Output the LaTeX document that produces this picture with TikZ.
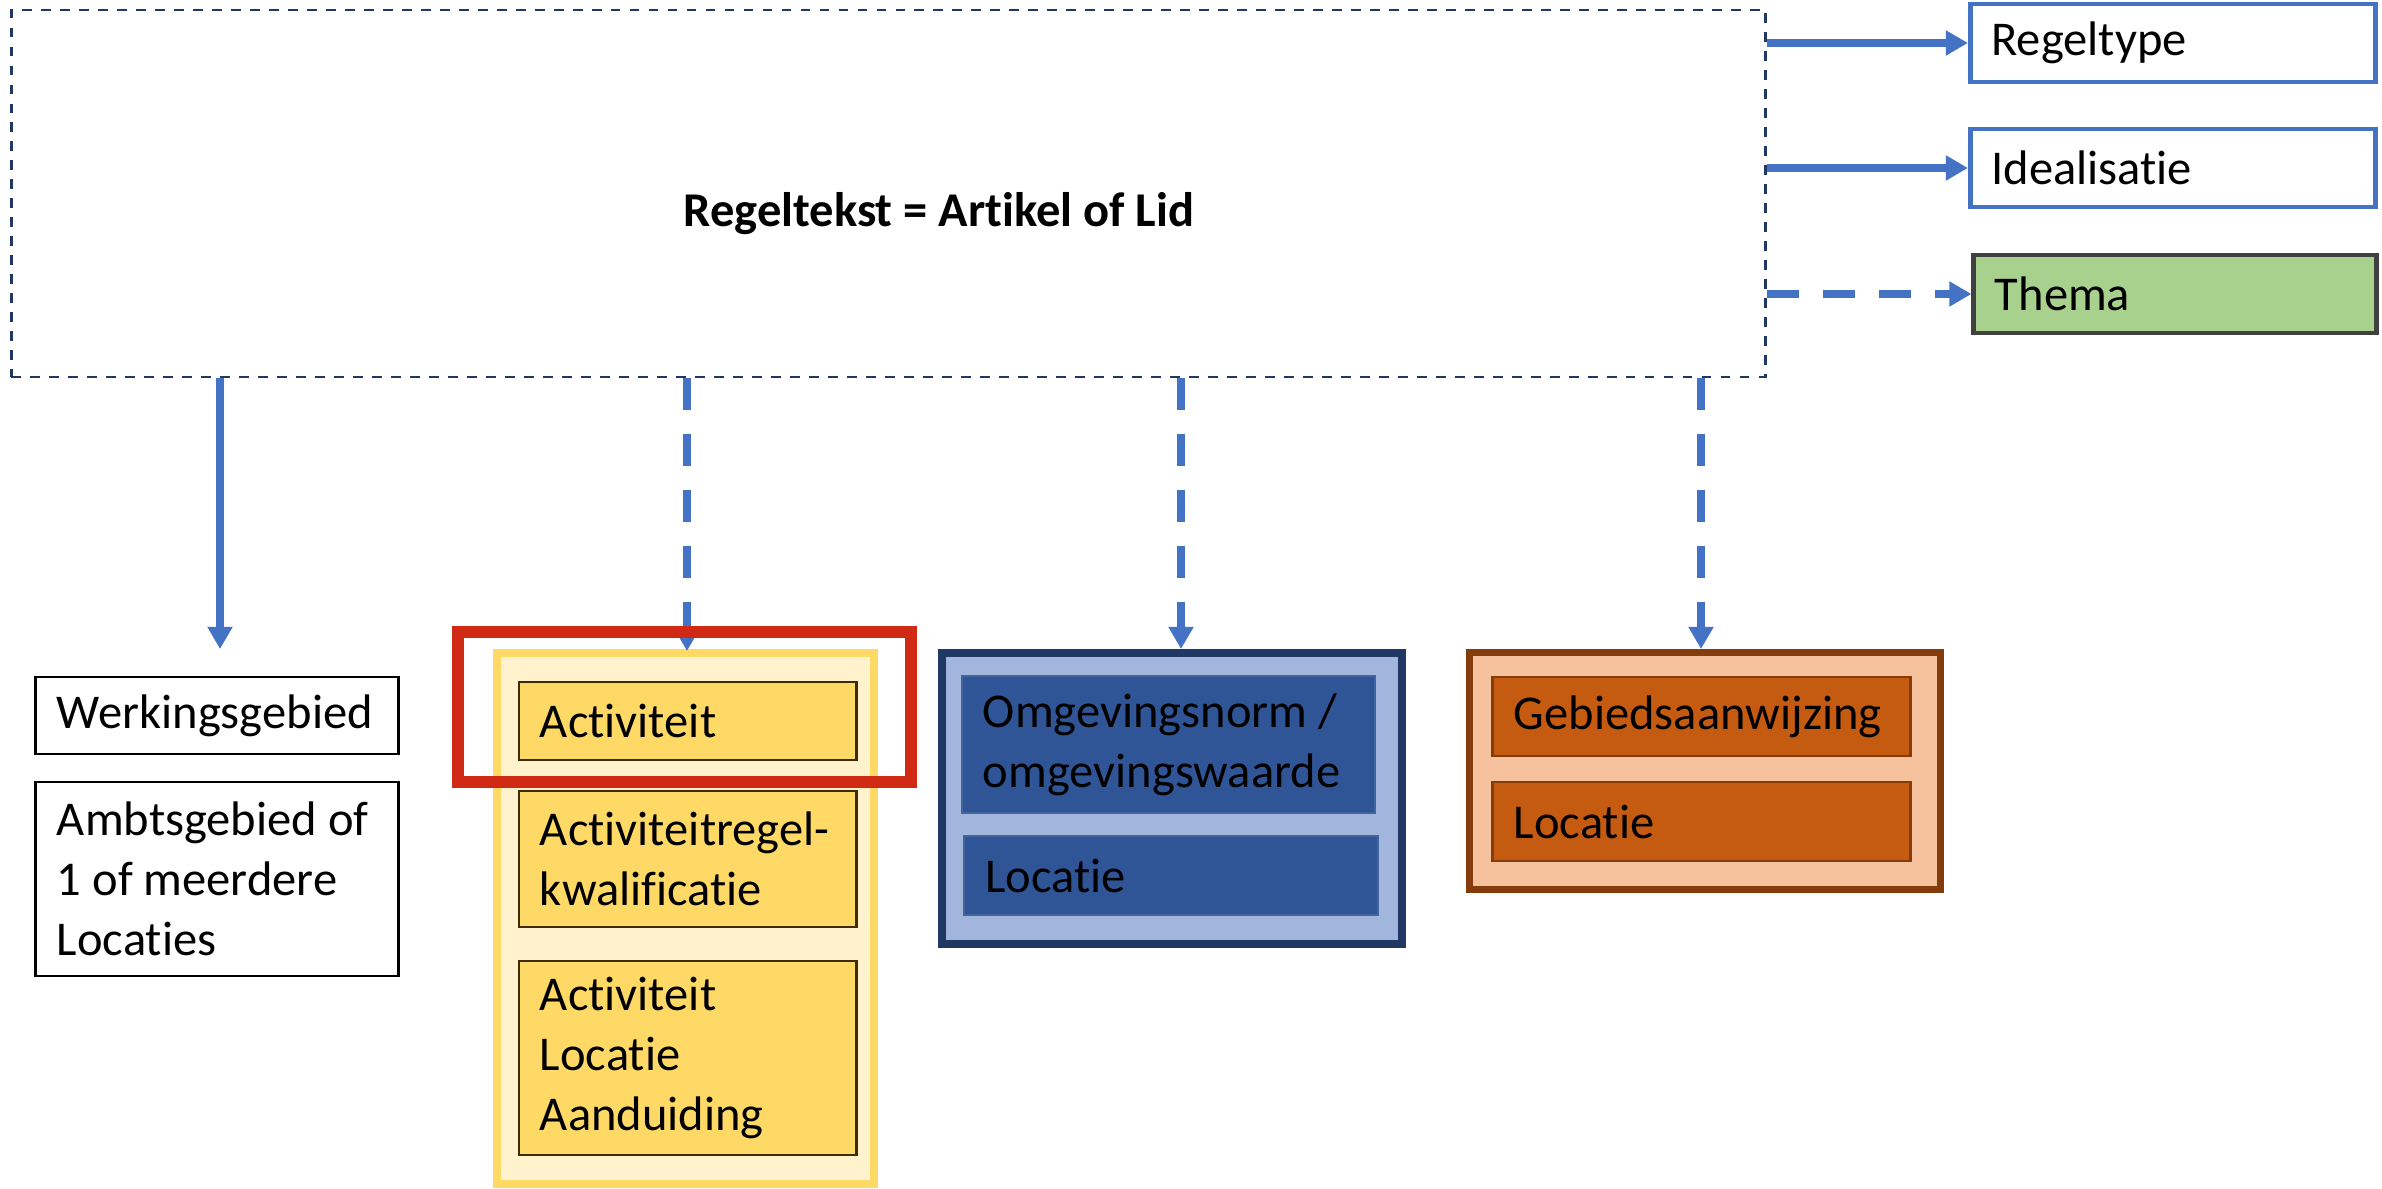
\documentclass[tikz,border=0pt]{standalone}
\usepackage{fontspec}
\setmainfont{Carlito}[Ligatures=NoCommon]
\usetikzlibrary{arrows.meta}
\definecolor{navy}{HTML}{203864}
\definecolor{arrblue}{HTML}{4472C4}
\definecolor{yelfill}{HTML}{FFF2CC}
\definecolor{yelline}{HTML}{FFD966}
\definecolor{yelinner}{HTML}{FFD966}
\definecolor{brownline}{HTML}{3F2B00}
\definecolor{redline}{HTML}{D12A14}
\definecolor{bluefill}{HTML}{A2B5DD}
\definecolor{blueinner}{HTML}{2F5597}
\definecolor{blueinnerline}{HTML}{41669F}
\definecolor{orfill}{HTML}{F5C29D}
\definecolor{orline}{HTML}{843C0C}
\definecolor{orinner}{HTML}{C55A11}
\definecolor{themafill}{HTML}{A9D18E}
\definecolor{themaline}{HTML}{404040}
\begin{document}
\begin{tikzpicture}[x=0.01cm,y=-0.01cm,
  every node/.style={font=\fontsize{13.8}{17}\selectfont, text=black},
  txtbox/.style={rectangle, inner xsep=0.21cm, inner ysep=0pt, align=flush left},
  mainbox/.style={rectangle, draw=navy, line width=0.7pt, dash pattern=on 2.8pt off 2.6pt},
  rightbox/.style={txtbox, draw=arrblue, line width=1.4pt, fill=white},
  themabox/.style={txtbox, draw=themaline, line width=1.4pt, fill=themafill},
  plainbox/.style={txtbox, draw=black, line width=0.8pt, fill=white},
  yelouter/.style={rectangle, draw=yelline, line width=2.3pt, fill=yelfill},
  yelbox/.style={txtbox, draw=brownline, line width=0.8pt, fill=yelinner},
  blueouter/.style={rectangle, draw=navy, line width=2.3pt, fill=bluefill},
  bluebox/.style={txtbox, draw=blueinnerline, line width=0.6pt, fill=blueinner},
  orouter/.style={rectangle, draw=orline, line width=2.1pt, fill=orfill},
  orbox/.style={txtbox, draw=orline, line width=0.8pt, fill=orinner},
  highlight/.style={rectangle, draw=redline, line width=3.4pt},
  arr/.style={draw=arrblue, line width=2.27pt, -{Triangle[length=6.3pt,width=6.8pt]}},
  darr/.style={arr, dash pattern=on 9.1pt off 6.8pt}
]
\useasboundingbox (0,0) rectangle (2382,1189);

% main rule text box
\node[mainbox, minimum width=17.53cm, minimum height=3.67cm] (main) at (888.5,193.5) {};
\node[anchor=base west, inner sep=0pt, font=\fontsize{13.8}{17}\selectfont\bfseries] (title) at (683,227) {Regeltekst = Artikel of Lid};

% right boxes
\node[rightbox, minimum width=4.05cm, text width=3.63cm, minimum height=0.78cm] (rt) at (2173,43) {Regeltype};
\node[rightbox, minimum width=4.05cm, text width=3.63cm, minimum height=0.78cm] (id) at (2173,168) {Idealisatie};
\node[themabox, minimum width=4.02cm, text width=3.60cm, minimum height=0.78cm] (th) at (2175,294) {Thema};

% left boxes
\node[plainbox, minimum width=3.62cm, text width=3.20cm, minimum height=0.77cm] (wg) at (217,715.5) {Werkingsgebied};
\node[plainbox, minimum width=3.62cm, text width=3.20cm, minimum height=1.94cm] (ag) at (217,879) {Ambtsgebied of\\1 of meerdere\\Locaties};

% yellow group
\node[yelouter, minimum width=3.77cm, minimum height=5.31cm] (yel) at (685.5,918.5) {};
\node[yelbox, minimum width=3.37cm, text width=2.95cm, minimum height=0.78cm] (act) at (687.5,721) {Activiteit};
\node[yelbox, minimum width=3.37cm, text width=2.95cm, minimum height=1.36cm] (arq) at (687.5,859) {Activiteitregel-\\kwalificatie};
\node[yelbox, minimum width=3.37cm, text width=2.95cm, minimum height=1.94cm] (ala) at (687.5,1058) {Activiteit\\Locatie\\Aanduiding};

% blue group
\node[blueouter, minimum width=4.6cm, minimum height=2.91cm] (blu) at (1172,798.5) {};
\node[bluebox, minimum width=4.13cm, text width=3.71cm, minimum height=1.37cm] (on) at (1168.5,744.5) {Omgevingsnorm /\\omgevingswaarde};
\node[bluebox, minimum width=4.13cm, text width=3.71cm, minimum height=0.79cm] (bl) at (1171,875.5) {Locatie};

% orange group
\node[orouter, minimum width=4.71cm, minimum height=2.37cm] (ora) at (1705,771) {};
\node[orbox, minimum width=4.17cm, text width=3.75cm, minimum height=0.79cm] (ga) at (1701.5,716.5) {Gebiedsaanwijzing};
\node[orbox, minimum width=4.17cm, text width=3.75cm, minimum height=0.79cm] (ol) at (1701.5,821.5) {Locatie};

% connectors to the right
\draw[arr] (main.east |- rt.west) -- (rt.west);
\draw[arr] (main.east |- id.west) -- (id.west);
\draw[darr] (main.east |- th.west) -- (th.west);

% connectors downwards
\coordinate (wend) at (220,649);
\coordinate (aend) at (687,651);
\coordinate (bend) at (1181,649);
\coordinate (oend) at (1701,649);
\draw[arr] (main.south -| wend) -- (wend);
\draw[darr] (main.south -| aend) -- (aend);
\draw[darr] (main.south -| bend) -- (bend);
\draw[darr] (main.south -| oend) -- (oend);

% red highlight
\node[highlight, minimum width=4.53cm, minimum height=1.50cm] (hl) at (684.5,707) {};
\end{tikzpicture}
\end{document}
